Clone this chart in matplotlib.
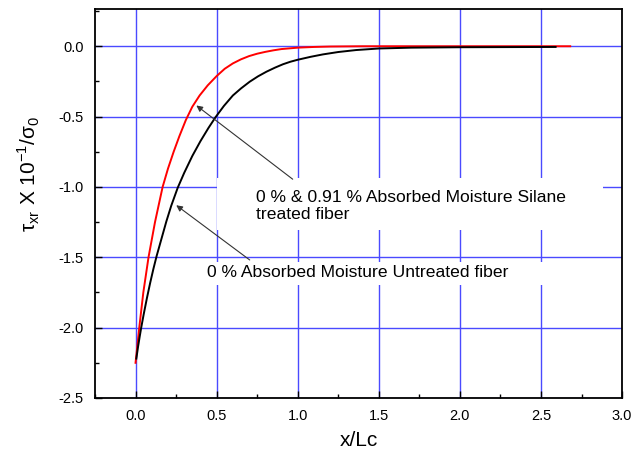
import matplotlib
matplotlib.use('Agg')
import matplotlib.pyplot as plt
from matplotlib.patches import Rectangle
from matplotlib.ticker import MultipleLocator

plt.rcParams['font.family'] = ['Liberation Sans', 'DejaVu Sans']

# silane treated fiber (red)
x_treated = [0.0, 0.012, 0.023, 0.048, 0.08, 0.12, 0.167, 0.2, 0.235, 0.27,
             0.31, 0.35, 0.395, 0.445, 0.5, 0.55, 0.6, 0.65, 0.7, 0.75,
             0.8, 0.85, 0.9, 1.0, 1.1, 1.2, 1.4, 2.0, 2.68]
y_treated = [-2.25, -2.12, -2.0, -1.75, -1.5, -1.25, -1.0, -0.87, -0.75, -0.64,
             -0.525, -0.43, -0.35, -0.278, -0.212, -0.16, -0.122, -0.093, -0.07, -0.053,
             -0.04, -0.029, -0.02, -0.01, -0.005, -0.002, 0.0, 0.0, 0.0]

# untreated fiber (black)
x_untreated = [0.005, 0.015, 0.025, 0.035, 0.05, 0.07, 0.09, 0.11, 0.13, 0.16,
               0.19, 0.22, 0.26, 0.3, 0.35, 0.4, 0.45, 0.494, 0.545, 0.6,
               0.65, 0.704, 0.755, 0.807, 0.86, 0.909, 0.955, 1.0, 1.08, 1.155,
               1.25, 1.36, 1.5, 1.7, 2.0, 2.3, 2.59]
y_untreated = [-2.22, -2.14, -2.068, -2.0, -1.907, -1.791, -1.683, -1.583, -1.491, -1.368,
               -1.245, -1.134, -1.006, -0.9, -0.78, -0.675, -0.58, -0.503, -0.424, -0.35,
               -0.3, -0.252, -0.214, -0.181, -0.152, -0.128, -0.11, -0.096, -0.075, -0.058,
               -0.041, -0.027, -0.016, -0.01, -0.007, -0.006, -0.005]

label_treated = "0 % & 0.91 % Absorbed Moisture Silane\ntreated fiber"
label_untreated = "0 % Absorbed Moisture Untreated fiber"

fig = plt.figure(figsize=(6.44, 4.55), dpi=100)
ax = fig.add_axes([0.1475, 0.1253, 0.8185, 0.855])

ax.set_xlim(-0.25, 3.0)
ax.set_ylim(-2.5, 0.265)
ax.xaxis.set_minor_locator(MultipleLocator(0.25))
ax.yaxis.set_minor_locator(MultipleLocator(0.25))
ax.set_xticks([0.0, 0.5, 1.0, 1.5, 2.0, 2.5, 3.0])
ax.set_yticks([-2.5, -2.0, -1.5, -1.0, -0.5, 0.0])
ax.xaxis.set_major_formatter(lambda v, p: f"{v:.1f}")
ax.yaxis.set_major_formatter(lambda v, p: f"{v:.1f}")

ax.grid(True, which='major', color='#4a4aff', lw=1.0, zorder=0)
ax.set_axisbelow(True)
ax.tick_params(which='both', direction='in', labelsize=10.5, pad=8)
ax.tick_params(which='major', length=5, width=1)
ax.tick_params(which='minor', length=3, width=1)
for s in ax.spines.values():
    s.set_linewidth(1.3)

# white boxes behind the annotations
ax.add_patch(Rectangle((0.5, -1.307), 2.38, 0.369, facecolor='white',
                       edgecolor='none', zorder=1.5))
ax.add_patch(Rectangle((0.39, -1.696), 2.49, 0.163, facecolor='white',
                       edgecolor='none', zorder=1.5))

ax.plot(x_treated, y_treated, color='red', lw=1.4, zorder=3)
ax.plot(x_untreated, y_untreated, color='black', lw=1.4, zorder=3)

ax.annotate('', xy=(0.375, -0.421), xytext=(0.969, -0.945),
            arrowprops=dict(arrowstyle='-|>', color='#333333', lw=0.8,
                            mutation_scale=9, shrinkA=0, shrinkB=0), zorder=4)
ax.annotate('', xy=(0.251, -1.13), xytext=(0.704, -1.519),
            arrowprops=dict(arrowstyle='-|>', color='#333333', lw=0.8,
                            mutation_scale=9, shrinkA=0, shrinkB=0), zorder=4)

ax.text(0.741, -1.137, label_treated, fontsize=12.6, va='center', ha='left',
        linespacing=1.15, zorder=4)
ax.text(0.438, -1.611, label_untreated, fontsize=12.6, va='center', ha='left',
        zorder=4)

ax.set_xlabel('x/Lc', fontsize=15, labelpad=6)
ax.set_ylabel(r'τ$_\mathregular{xr}$ X 10$^\mathregular{-1}$/σ$_\mathregular{0}$',
              fontsize=15)
ax.yaxis.set_label_coords(-0.1, 0.577)

fig.savefig('out.png', dpi=100)
